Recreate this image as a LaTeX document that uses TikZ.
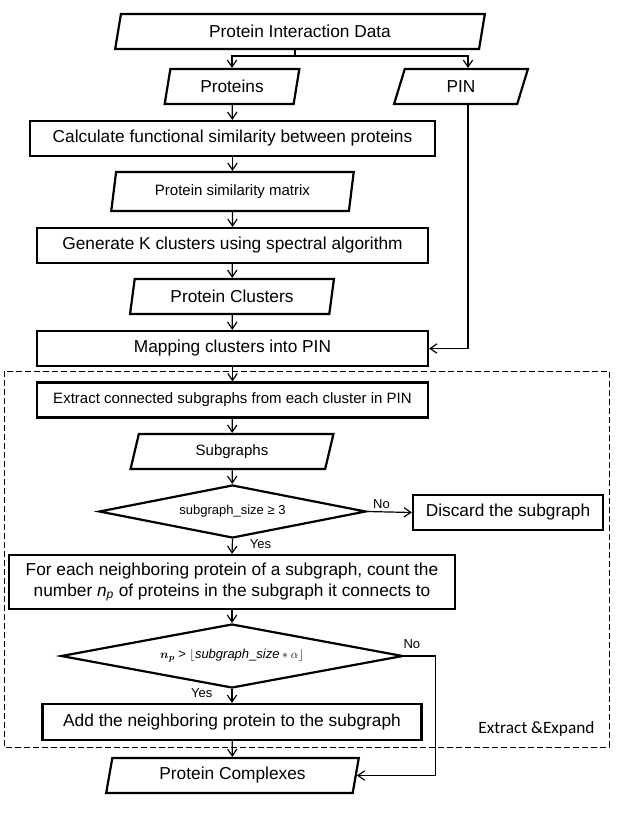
\documentclass[tikz,border=0pt]{standalone}
\usepackage{amsmath}
\usepackage{fontspec}
\setmainfont{Liberation Sans}
\newfontfamily\calfont{Carlito}
\usetikzlibrary{shapes.geometric,arrows.meta}
\begin{document}
\begin{tikzpicture}[x=1pt,y=-1pt,
  io/.style={trapezium,trapezium left angle=77,trapezium right angle=103,trapezium stretches=true,draw,line width=2.2pt,inner sep=0pt,font=\fontsize{17.3}{21}\selectfont},
  proc/.style={rectangle,draw,line width=2.2pt,inner sep=0pt,align=center,font=\fontsize{17.3}{21}\selectfont},
  dec/.style={diamond,aspect=5,draw,line width=2.2pt,inner sep=0pt,font=\fontsize{13}{15}\selectfont},
  arr/.style={-{Straight Barb[length=2.4mm,width=3.3mm]},line width=1.2pt},
  lab/.style={font=\fontsize{13}{15}\selectfont,inner sep=1pt}]
\useasboundingbox (0,0) rectangle (617,820);
\draw (300,31.5) node[io,minimum width=370,minimum height=35](data) {Protein Interaction Data};
\draw (232,86.5) node[io,minimum width=135,minimum height=35](prot) {Proteins};
\draw (461,86.5) node[io,minimum width=134,minimum height=35](pin) {PIN};
\draw (232.5,138.5) node[proc,minimum width=405,minimum height=35](calc) {Calculate functional similarity between proteins};
\draw (232.5,191.5) node[io,minimum width=243,minimum height=39,font=\fontsize{15}{18}\selectfont](simmat) {Protein similarity matrix};
\draw (232.5,245.5) node[proc,minimum width=391,minimum height=35](gen) {Generate K clusters using spectral algorithm};
\draw (232,296.5) node[io,minimum width=204,minimum height=35](clus) {Protein Clusters};
\draw (232.5,348.5) node[proc,minimum width=391,minimum height=35](map) {Mapping clusters into PIN};
\draw (232.5,400) node[proc,minimum width=391,minimum height=35,font=\fontsize{15}{18}\selectfont](ext) {Extract connected subgraphs from each cluster in PIN};
\draw (232,451.5) node[io,minimum width=204,minimum height=35,font=\fontsize{15}{18}\selectfont](sub) {Subgraphs};
\draw (232.5,511.5) node[dec,minimum width=267,minimum height=53](size) {subgraph\_size ≥ 3};
\draw (508,512.5) node[proc,minimum width=190,minimum height=35](disc) {Discard the subgraph};
\draw (232,582) node[proc,minimum width=446,minimum height=54](each) {For each neighboring protein of a subgraph, count the\\number \textit{n}\textsubscript{\textit{p}} of proteins in the subgraph it connects to};
\draw (232,656) node[dec,minimum width=342,minimum height=64](np) {$\boldsymbol{n_p}$ > $\lfloor \mathit{subgraph\_size} \ast \alpha\rfloor$};
\draw (232,722) node[proc,minimum width=379,minimum height=36](add) {Add the neighboring protein to the subgraph};
\draw (232.5,775.5) node[io,minimum width=253,minimum height=35](comp) {Protein Complexes};
\draw[line width=1pt,dash pattern=on 6pt off 3pt] (4,371) rectangle (609,747);
\draw (536.5,729) node[font=\calfont\fontsize{17.3}{21}\selectfont](grp) {Extract \&Expand};
\coordinate (split) at (295,56);
\draw[line width=1.2pt] (data.south -| split) -- (split);
\draw[arr] (split) -| (prot.north);
\draw[arr] (split) -| ([xshift=7pt]pin.north);
\draw[arr] (prot) -- (calc);
\draw[arr] (calc) -- (simmat);
\draw[arr] (simmat) -- (gen);
\draw[arr] (gen) -- (clus);
\draw[arr] (clus) -- (map);
\draw[arr] ([xshift=7pt]pin.south) |- (map.east);
\draw[arr] (map) -- (ext);
\draw[arr] (ext) -- (sub);
\draw[arr] (sub) -- (size);
\draw[arr] (size.east) -- node[lab,pos=0.32,above=2pt]{No} (disc.west);
\draw[arr] (size.south) -- node[lab,pos=0.35,right=16pt]{Yes} (each.north);
\draw[arr] (each) -- (np);
\draw[arr] (np.south) -- node[lab,pos=0.3,left=18pt]{Yes} (add.north);
\draw[arr] (np.east) -- node[lab,pos=0.25,above=6pt]{No} ++(31,0) |- (comp.east);
\draw[arr] (add) -- (comp);
\end{tikzpicture}
\end{document}
